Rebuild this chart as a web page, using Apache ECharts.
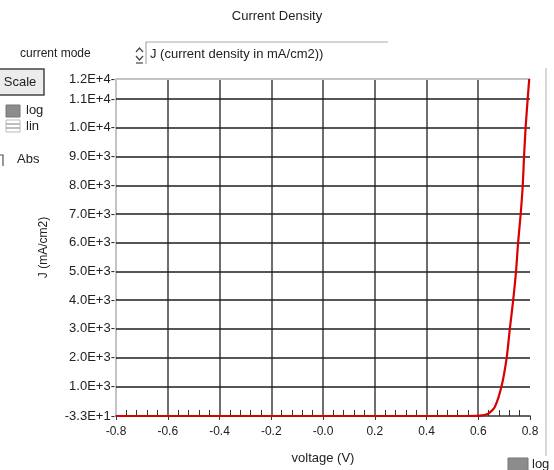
<!DOCTYPE html>
<html>
<head>
<meta charset="utf-8">
<script src="https://cdn.jsdelivr.net/npm/echarts@6/dist/echarts.min.js"></script>
<style>
html,body{margin:0;padding:0;background:#fff;}
#chart{width:554px;height:470px;}
</style>
</head>
<body>
<div id="chart"></div>
<script>
// ---- data ----
const voltage = [-0.8, -0.4, 0.0, 0.4, 0.55, 0.6, 0.615, 0.63, 0.64, 0.664, 0.69, 0.71, 0.722, 0.735, 0.746, 0.754, 0.764, 0.772, 0.777, 0.783, 0.791, 0.797];
const current = [-33, -33, -33, -33, -33, -31, -10, 20, 50, 280, 1000, 2000, 3000, 4000, 5000, 6000, 7000, 8000, 9000, 10000, 11000, 11700];

const xTickLabels = ["-0.8", "-0.6", "-0.4", "-0.2", "-0.0", "0.2", "0.4", "0.6", "0.8"];
const yTickValues = [-33, 1000, 2000, 3000, 4000, 5000, 6000, 7000, 8000, 9000, 10000, 11000, 11700];
const yTickLabels = ["-3.3E+1", "1.0E+3", "2.0E+3", "3.0E+3", "4.0E+3", "5.0E+3", "6.0E+3", "7.0E+3", "8.0E+3", "9.0E+3", "1.0E+4", "1.1E+4", "1.2E+4"];

const FONT = "Liberation Sans, Arial, sans-serif";
const chart = echarts.init(document.getElementById('chart'), null, {renderer: 'canvas'});

const gridLines = yTickValues.slice(1, -1).map(v => ({yAxis: v}));
const labelLines = yTickValues.map((v, i) => ({
  yAxis: v,
  label: {formatter: yTickLabels[i] + '-'},
  lineStyle: i === yTickValues.length - 1 ? {color: '#c4c4c4', width: 2} : {color: 'rgba(0,0,0,0)', width: 0.1}
}));

chart.setOption({
  animation: false,
  backgroundColor: '#ffffff',
  grid: {left: 116, right: 24, top: 79, bottom: 54, containLabel: false},
  xAxis: [{
    type: 'value', min: -0.8, max: 0.8, interval: 0.2,
    name: 'voltage (V)', nameLocation: 'middle', nameGap: 36,
    nameTextStyle: {fontFamily: FONT, fontSize: 13, color: '#222'},
    axisLine: {show: true, onZero: false, lineStyle: {color: '#333', width: 1.5}},
    axisTick: {show: true, length: 4, lineStyle: {color: '#333', width: 1}},
    axisLabel: {
      margin: 10, fontFamily: FONT, fontSize: 12, color: '#222',
      formatter: v => xTickLabels[Math.round((v + 0.8) / 0.2)]
    },
    splitLine: {show: true, showMinLine: false, showMaxLine: false, lineStyle: {color: '#4a4a4a', width: 1.6}}
  }, {
    type: 'value', min: -0.8, max: 0.8, interval: 0.2, position: 'bottom',
    axisLine: {show: false, onZero: false}, axisLabel: {show: false},
    axisTick: {show: false, inside: true},
    minorTick: {show: true, splitNumber: 5, length: 6, lineStyle: {color: '#333', width: 1}},
    splitLine: {show: false}
  }],
  yAxis: {
    type: 'value', min: -33, max: 11700,
    name: 'J (mA/cm2)', nameLocation: 'middle', nameGap: 66, nameRotate: 90,
    nameTextStyle: {fontFamily: FONT, fontSize: 12, color: '#222'},
    axisLine: {show: true, onZero: false, lineStyle: {color: '#c4c4c4', width: 2}},
    axisTick: {show: false}, axisLabel: {show: false}, splitLine: {show: false}
  },
  series: [{
    type: 'line', name: 'grid', data: [], z: 1, silent: true,
    markLine: {
      silent: true, symbol: ['none', 'none'], animation: false,
      lineStyle: {color: '#1e1e1e', width: 1.5, type: 'solid'},
      label: {show: false},
      data: gridLines
    }
  }, {
    type: 'line', name: 'labels', data: [], z: 1, silent: true,
    markLine: {
      silent: true, symbol: ['none', 'none'], animation: false,
      lineStyle: {type: 'solid'},
      label: {show: true, position: 'start', distance: 1, fontFamily: FONT, fontSize: 13, color: '#222'},
      data: labelLines
    }
  }, {
    type: 'line', name: 'J', xAxisIndex: 0, z: 5,
    data: voltage.map((v, i) => [v, current[i]]),
    showSymbol: false, smooth: 0.25,
    lineStyle: {color: '#d80000', width: 2.2},
    itemStyle: {color: '#d80000'}
  }],
  graphic: [
    {type: 'text', left: 'center', top: 10, style: {text: 'Current Density', fontFamily: FONT, fontSize: 13, fill: '#222'}},
    {type: 'text', x: 20, y: 48, style: {text: 'current mode', fontFamily: FONT, fontSize: 12, fill: '#222'}},
    {type: 'polyline', shape: {points: [[136, 52], [139.5, 48], [143, 52]]}, style: {stroke: '#444', lineWidth: 1.2, fill: null}},
    {type: 'polyline', shape: {points: [[136, 56], [139.5, 60], [143, 56]]}, style: {stroke: '#444', lineWidth: 1.2, fill: null}},
    {type: 'line', shape: {x1: 136, y1: 63, x2: 143, y2: 63}, style: {stroke: '#444', lineWidth: 1.2}},
    {type: 'polyline', shape: {points: [[146, 64], [146, 42], [388, 42]]}, style: {stroke: '#aaa', lineWidth: 1.2, fill: null}},
    {type: 'text', x: 150, y: 48, style: {text: 'J (current density in mA/cm2))', fontFamily: FONT, fontSize: 13, fill: '#222'}},
    {type: 'rect', shape: {x: -3, y: 69, width: 47, height: 26}, style: {fill: '#ececec', stroke: '#444', lineWidth: 1.5}},
    {type: 'text', x: 20, y: 82, style: {text: 'Scale', fontFamily: FONT, fontSize: 13, fill: '#222', align: 'center', verticalAlign: 'middle'}},
    {type: 'rect', shape: {x: 6, y: 105, width: 14, height: 12}, style: {fill: '#8c8c8c', stroke: '#777', lineWidth: 1}},
    {type: 'rect', shape: {x: 6, y: 120, width: 14, height: 12}, style: {fill: '#fff', stroke: '#bbb', lineWidth: 1}},
    {type: 'line', shape: {x1: 6, y1: 124, x2: 20, y2: 124}, style: {stroke: '#aaa', lineWidth: 1.5}},
    {type: 'line', shape: {x1: 6, y1: 128, x2: 20, y2: 128}, style: {stroke: '#aaa', lineWidth: 1.5}},
    {type: 'text', x: 26, y: 104, style: {text: 'log', fontFamily: FONT, fontSize: 13, fill: '#222'}},
    {type: 'text', x: 26, y: 120, style: {text: 'lin', fontFamily: FONT, fontSize: 13, fill: '#222'}},
    {type: 'polyline', shape: {points: [[-1, 155], [3, 155], [3, 166]]}, style: {stroke: '#555', lineWidth: 1.2, fill: null}},
    {type: 'text', x: 17, y: 153, style: {text: 'Abs', fontFamily: FONT, fontSize: 13, fill: '#222'}},
    {type: 'line', shape: {x1: 546, y1: 68, x2: 546, y2: 456}, style: {stroke: '#d8d8d8', lineWidth: 2}},
    {type: 'rect', shape: {x: 508, y: 458, width: 20, height: 14}, style: {fill: '#8c8c8c', stroke: '#777', lineWidth: 1}},
    {type: 'text', x: 532, y: 458, style: {text: 'log', fontFamily: FONT, fontSize: 13, fill: '#222'}}
  ]
});
</script>
</body>
</html>
